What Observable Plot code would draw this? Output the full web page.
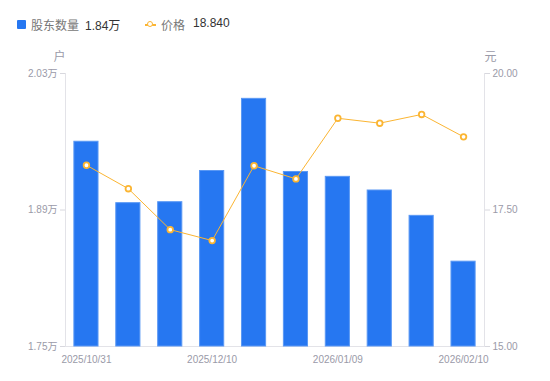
<!DOCTYPE html>
<html><head><meta charset="utf-8">
<script src="https://cdn.jsdelivr.net/npm/d3@7"></script>
<script src="https://cdn.jsdelivr.net/npm/@observablehq/plot@0.6"></script>
<style>
body{margin:0;background:#fff;font-family:"Liberation Sans",Arial,"Noto Sans CJK SC",sans-serif;}
#wrap{position:relative;width:550px;height:381px;}
#legend{position:absolute;left:0;top:0;width:550px;height:40px;font-size:12px;}
#legend span{position:absolute;top:16px;white-space:nowrap;}
svg text{font-family:"Liberation Sans",Arial,"Noto Sans CJK SC",sans-serif;}
</style></head>
<body><div id="wrap"><div id="chart"></div>
<div id="legend">
<span style="left:17px;top:20px;width:9px;height:9px;background:#2677f1;border-radius:1px"></span>
<span style="left:31px;color:#777">股东数量</span>
<span style="left:85px;color:#333">1.84万</span>
<span style="left:145px;top:24px;width:11px;height:1.5px;background:#fbb532"></span>
<span style="left:147px;top:21px;width:4px;height:4px;border:1.5px solid #fbb532;border-radius:50%;background:#fff"></span>
<span style="left:161px;color:#777">价格</span>
<span style="left:193px;color:#333">18.840</span>
</div></div>
<script>
const dates = ["2025/10/31","2025/11/10","2025/11/20","2025/12/10","2025/12/19","2025/12/31","2026/01/09","2026/01/20","2026/01/30","2026/02/10"];
const holders = [1.960,1.897,1.898,1.930,2.004,1.929,1.924,1.910,1.884,1.837];
const prices = [18.32,17.89,17.14,16.94,18.31,18.07,19.18,19.09,19.25,18.84];
const xTicks = ["2025/10/31","2025/12/10","2026/01/09","2026/02/10"];
const leftTicks = [1.75,1.89,2.03];
const rightTicks = [15,17.5,20];

const yMin = 1.75, yMax = 2.03, pMin = 15, pMax = 20;
const p2y = p => yMin + (p - pMin) / (pMax - pMin) * (yMax - yMin);
const y2p = v => pMin + (v - yMin) / (yMax - yMin) * (pMax - pMin);

const data = dates.map((d,i)=>({date:d, h:holders[i], p:p2y(prices[i])}));
const axisColor = "#9a9aa8";
const lineColor = "#e3e3e8";

const chart = Plot.plot({
  width:550, height:381,
  marginLeft:65, marginRight:66, marginTop:73, marginBottom:35,
  style:{fontSize:"10px", color:axisColor, background:"#fff"},
  x:{type:"band", domain:dates, paddingInner:0.4, paddingOuter:0.2, align:0.5, round:false},
  y:{domain:[yMin,yMax]},
  marks:[
    Plot.frame({anchor:"left", stroke:lineColor}),
    Plot.frame({anchor:"right", stroke:lineColor}),
    Plot.frame({anchor:"bottom", stroke:lineColor}),
    Plot.barY(data,{x:"date", y1:yMin, y2:"h", fill:"#2677f1", stroke:"#5a98f4", strokeWidth:1, insetLeft:0.5, insetRight:0.5}),
    Plot.axisY({anchor:"left", ticks:leftTicks, tickFormat:d=>d.toFixed(2)+"万", tickSize:5, tickPadding:3, stroke:"#d8d8de", fill:axisColor, label:null}),
    Plot.axisY({anchor:"right", ticks:rightTicks.map(p2y), tickFormat:v=>y2p(v).toFixed(2), tickSize:5, tickPadding:3, stroke:"#d8d8de", fill:axisColor, label:null}),
    Plot.axisX({ticks:xTicks, tickSize:0, tickPadding:9, fill:axisColor, label:null}),
    Plot.text(["户"],{frameAnchor:"top-left", dx:-6, dy:-21, fontSize:12, fill:axisColor, textAnchor:"middle"}),
    Plot.text(["元"],{frameAnchor:"top-right", dx:6, dy:-21, fontSize:12, fill:axisColor, textAnchor:"middle"}),
    Plot.line(data,{x:"date", y:"p", stroke:"#fbb532", strokeWidth:1}),
    Plot.dot(data,{x:"date", y:"p", r:2.8, fill:"#fff", stroke:"#fbb532", strokeWidth:1.8})
  ]
});
document.getElementById("chart").appendChild(chart);
</script></body></html>
